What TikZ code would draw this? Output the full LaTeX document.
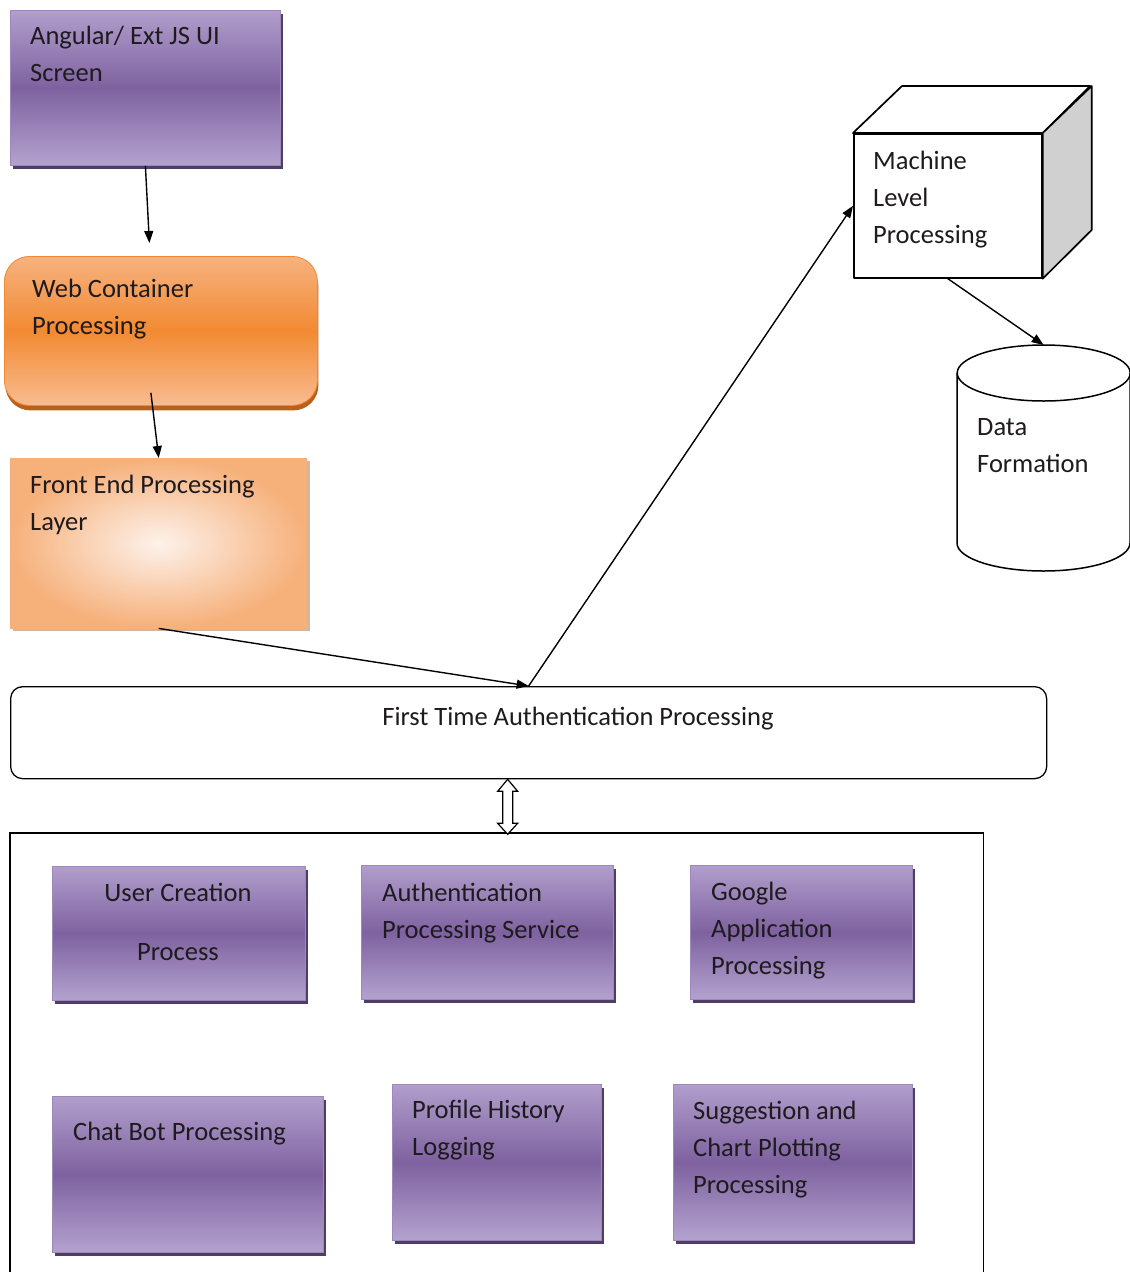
\documentclass[tikz,border=0pt]{standalone}
\usepackage{fontspec}
\setmainfont{Carlito}
\usetikzlibrary{arrows.meta,shadows}
\definecolor{purpTop}{HTML}{B19ECC}
\definecolor{purpMid}{HTML}{7E62A0}
\definecolor{purpBot}{HTML}{B3A2CE}
\definecolor{purpEdge}{HTML}{9C89BA}
\definecolor{purpShade}{HTML}{4E3D66}
\definecolor{orTop}{HTML}{F6B27F}
\definecolor{orMid}{HTML}{F28A32}
\definecolor{orBot}{HTML}{F8BC90}
\definecolor{orShade}{HTML}{B9601C}
\definecolor{peachOut}{HTML}{F6B07A}
\definecolor{peachIn}{HTML}{FDF2EB}
\definecolor{peachShade}{HTML}{CDB7A6}
\definecolor{cubeSide}{HTML}{D0D0D0}
\definecolor{ink}{HTML}{1E1A1E}
\tikzset{
  purp/.style={draw=purpEdge, line width=0.8pt, top color=purpTop, bottom color=purpBot, middle color=purpMid,
    drop shadow={shadow xshift=3pt, shadow yshift=-4pt, fill=purpShade, opacity=1}, anchor=north west, inner sep=0pt},
  webbox/.style={draw=orMid, line width=0.8pt, rounded corners=25pt, top color=orTop, bottom color=orBot, middle color=orMid,
    drop shadow={shadow xshift=1pt, shadow yshift=-5pt, fill=orShade, opacity=1}, anchor=north west, inner sep=0pt},
  febox/.style={inner color=peachIn, outer color=peachOut,
    drop shadow={shadow xshift=3pt, shadow yshift=-3pt, fill=peachShade, opacity=1}, anchor=north west, inner sep=0pt},
  txt/.style={font=\fontsize{26.5}{37}\selectfont, text=ink, align=left, inner sep=0pt, anchor=north west, execute at begin node=\strut},
  arr/.style={line width=1.4pt, -{Triangle[length=12pt, width=9pt]}},
  cube/.style={line width=1.7pt, line join=round},
  cyl/.style={line width=1.5pt}
}
\begin{document}
\begin{tikzpicture}[x=1pt, y=-1pt]
		\useasboundingbox (0,0) rectangle (1130,1272);
		
		%%%%% left column %%%%%
		\node[purp, minimum width=270, minimum height=155] (ui) at (10,10) {};
		\node[txt] at (30,26) {Angular/ Ext JS UI\\Screen};
		
		\node[webbox, minimum width=313, minimum height=149] (web) at (4,256) {};
		\node[txt] at (32,279) {Web Container\\Processing};
		
		\node[febox, minimum width=297, minimum height=170] (fe) at (10,458) {};
		\node[txt] at (30,475) {Front End Processing\\Layer};
		
		%%%%% cube and store %%%%%
		\node[draw, cube, fill=white, minimum width=188, minimum height=144, anchor=north west, inner sep=0pt] (mlp) at (853,133) {};
		\draw[cube, fill=white] (mlp.north west) -- ++(49,-47) -- ++(188,0) -- (mlp.north east) -- cycle;
		\draw[cube, fill=cubeSide] (mlp.north east) -- ++(49,-47) -- ++(0,144) -- (mlp.south east) -- cycle;
		\node[txt] at (873,151) {Machine\\Level\\Processing};
		
		\node[minimum width=173, minimum height=226, anchor=north west, inner sep=0pt] (data) at (957,345) {};
		\draw[cyl, fill=white] (data.north west) ++(0,28) -- ++(0,170) arc (180:0:86.5 and 28) -- ++(0,-170);
		\draw[cyl] ([yshift=-28pt]data.north) ellipse (86.5 and 28);
		\node[txt] at (977,418) {Data\\Formation};
		
		%%%%% authentication %%%%%
		\node[draw, line width=1.3pt, rounded corners=12pt, minimum width=1036, minimum height=92, anchor=north west, inner sep=0pt] (auth) at (10,686) {};
		\node[txt, anchor=base, execute at begin node={}] at (578,725) {First Time Authentication Processing};
		
		\node[minimum width=973, minimum height=460, anchor=north west, inner sep=0pt] (grp) at (10,833) {};
		\draw[line width=1.3pt] (grp.south west) |- (grp.north east) -- (grp.south east);
		
		\draw[line width=1.2pt, fill=white, line join=miter] (auth.south) ++(-21,0) -- ++(-10,12) -- ++(5,0) -- ++(0,32) -- ++(-5,0)
			-- ++(10,11) -- ++(10,-11) -- ++(-5,0) -- ++(0,-32) -- ++(5,0) -- cycle;
		
		%%%%% services %%%%%
		\node[purp, minimum width=253, minimum height=134] (ucp) at (52,866) {};
		\node[txt, anchor=north, align=center] at (178,883) {User Creation\\[22pt]Process};
		
		\node[purp, minimum width=252, minimum height=134] (aps) at (361,865) {};
		\node[txt] at (382,883) {Authentication\\Processing Service};
		
		\node[purp, minimum width=222, minimum height=134] (gap) at (690,865) {};
		\node[txt] at (711,882) {Google\\Application\\Processing};
		
		\node[purp, minimum width=271, minimum height=156] (cbp) at (52,1096) {};
		\node[txt] at (73,1114) {Chat Bot Processing};
		
		\node[purp, minimum width=209, minimum height=156] (phl) at (392,1084) {};
		\node[txt] at (412,1100) {Profile History\\Logging};
		
		\node[purp, minimum width=239, minimum height=156] (scp) at (673,1084) {};
		\node[txt] at (693,1101) {Suggestion and\\Chart Plotting\\Processing};
		
		%%%%% arrows %%%%%
		\draw[arr] (ui.south) -- ([shift={(4,-13)}]web.north -| ui.south);
		\draw[arr] ([shift={(-10,-13)}]web.south) -- (fe.north);
		\draw[arr] (fe.south) -- (auth.north);
		\draw[arr] (auth.north) -- (mlp.west);
		\draw[arr] (mlp.south) -- (data.north);
		
		%%%%% END %%%%%
\end{tikzpicture}
\end{document}
